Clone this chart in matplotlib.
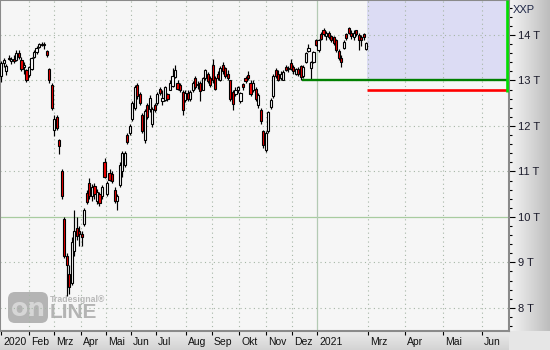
import matplotlib
matplotlib.use('Agg')
import matplotlib.pyplot as plt
import numpy as np
from matplotlib.patches import Rectangle, FancyBboxPatch
from matplotlib.transforms import ScaledTranslation
from matplotlib.ticker import MultipleLocator

plt.rcParams['font.family'] = ['Liberation Sans', 'DejaVu Sans']

# ---------------- data ----------------
opens = [13.10, 13.38, 13.20, 13.50, 13.42, 13.48, 13.45, 13.60, 13.45, 13.30,
         13.22, 13.12, 13.25, 13.52, 13.62, 13.74, 13.80, 13.78, 13.64, 13.25,
         12.90, 11.90, 12.20, 11.70, 11.00, 9.95, 9.15, 8.75, 8.55, 9.25,
         9.75, 9.70, 9.62, 9.85, 10.52, 10.75, 10.45, 10.68, 10.35, 10.50,
         10.45, 11.20, 10.50, 10.96, 10.95, 10.60, 10.35, 10.70, 11.00, 11.15,
         11.80, 11.85, 12.15, 12.40, 12.90, 12.70, 12.25, 11.70, 12.45, 12.38,
         12.05, 12.45, 12.50, 12.82, 12.55, 12.58, 12.70, 12.80, 12.88, 13.08,
         12.95, 12.90, 12.75, 12.58, 12.72, 12.60, 12.78, 13.05, 12.90, 12.95,
         12.80, 13.05, 13.15, 13.05, 13.35, 13.05, 13.15, 13.00, 13.35, 13.28,
         13.15, 13.00, 12.75, 12.70, 12.80, 12.55, 12.92, 13.05, 13.12, 12.95,
         12.80, 12.82, 12.45, 12.35, 11.88, 11.48, 11.88, 12.42, 12.65, 13.22,
         13.15, 13.05, 13.02, 13.30, 13.25, 13.38, 13.30, 13.15, 13.25, 13.32,
         13.10, 13.40, 13.65, 13.28, 13.40, 13.88, 13.68, 14.02, 14.10, 13.98,
         14.05, 13.98, 13.95, 13.88, 13.65, 13.50, 13.72, 14.02, 14.15, 14.05,
         13.95, 14.10, 14.00, 13.95, 14.02, 13.70]
highs = [13.42, 13.50, 13.36, 13.55, 13.52, 13.55, 13.66, 13.66, 13.52, 13.40,
         13.25, 13.32, 13.52, 13.66, 13.76, 13.83, 13.84, 13.84, 13.66, 13.27,
         12.95, 12.25, 12.25, 11.72, 11.05, 10.00, 9.20, 8.95, 9.55, 10.15,
         10.00, 9.80, 9.70, 10.20, 10.60, 10.85, 10.72, 10.75, 10.62, 10.55,
         10.70, 11.30, 10.80, 11.05, 11.00, 10.65, 10.50, 11.20, 11.45, 11.45,
         11.85, 12.05, 12.55, 12.90, 12.95, 12.75, 12.28, 12.38, 12.50, 12.68,
         12.42, 12.50, 12.75, 12.85, 12.80, 12.88, 12.72, 13.00, 13.28, 13.33,
         13.00, 12.95, 12.80, 12.78, 12.78, 12.80, 12.98, 13.10, 12.98, 12.98,
         13.08, 13.25, 13.18, 13.10, 13.47, 13.10, 13.20, 13.32, 13.40, 13.30,
         13.22, 13.02, 12.78, 12.85, 12.88, 12.75, 12.95, 13.10, 13.20, 13.00,
         13.00, 12.85, 12.72, 12.40, 11.90, 11.88, 12.32, 12.62, 13.15, 13.28,
         13.22, 13.20, 13.22, 13.35, 13.32, 13.47, 13.35, 13.28, 13.30, 13.35,
         13.35, 13.62, 13.80, 13.42, 13.65, 13.92, 13.92, 14.06, 14.15, 14.08,
         14.08, 14.00, 13.98, 13.92, 13.70, 13.55, 13.88, 14.05, 14.18, 14.10,
         14.10, 14.12, 14.05, 14.00, 14.05, 13.85]
lows = [12.97, 13.30, 13.12, 13.44, 13.36, 13.38, 13.43, 13.48, 13.20, 13.15,
        12.97, 13.08, 13.22, 13.50, 13.58, 13.72, 13.75, 13.70, 13.52, 12.95,
        12.35, 11.78, 11.90, 11.38, 10.40, 9.10, 8.25, 8.30, 8.50, 9.15,
        9.50, 9.35, 9.35, 9.80, 10.28, 10.40, 10.35, 10.40, 10.28, 10.25,
        10.40, 10.85, 10.45, 10.80, 10.75, 10.30, 10.15, 10.65, 10.88, 11.10,
        11.60, 11.80, 12.10, 12.35, 12.60, 12.45, 11.85, 11.62, 12.15, 12.30,
        11.98, 12.30, 12.45, 12.68, 12.45, 12.55, 12.55, 12.78, 12.85, 13.05,
        12.80, 12.75, 12.24, 12.52, 12.55, 12.55, 12.75, 12.82, 12.82, 12.55,
        12.78, 13.02, 12.95, 12.85, 12.95, 12.78, 13.00, 12.98, 13.15, 13.05,
        13.00, 12.55, 12.35, 12.65, 12.72, 12.50, 12.80, 12.95, 13.02, 12.65,
        12.75, 12.55, 12.40, 12.05, 11.52, 11.42, 11.85, 12.38, 12.62, 13.05,
        12.98, 13.00, 13.00, 13.20, 13.18, 13.22, 13.15, 13.12, 13.10, 13.00,
        13.05, 13.38, 13.62, 13.00, 13.38, 13.75, 13.62, 13.88, 13.98, 13.90,
        13.92, 13.85, 13.78, 13.62, 13.45, 13.30, 13.70, 13.90, 14.02, 13.92,
        13.90, 13.98, 13.67, 13.75, 13.90, 13.68]
closes = [13.38, 13.45, 13.32, 13.47, 13.48, 13.42, 13.60, 13.52, 13.25, 13.35,
          13.02, 13.30, 13.50, 13.63, 13.72, 13.80, 13.79, 13.80, 13.56, 13.00,
          12.40, 12.15, 11.95, 11.55, 10.45, 9.15, 8.95, 8.45, 9.45, 9.70,
          9.58, 9.62, 9.55, 10.15, 10.32, 10.45, 10.65, 10.50, 10.55, 10.30,
          10.65, 10.88, 10.75, 10.82, 10.80, 10.35, 10.45, 11.15, 11.40, 11.40,
          11.65, 12.00, 12.50, 12.85, 12.65, 12.50, 11.88, 12.33, 12.20, 12.62,
          12.38, 12.35, 12.70, 12.72, 12.62, 12.85, 12.60, 12.95, 13.10, 13.22,
          12.82, 12.78, 12.35, 12.72, 12.60, 12.75, 12.95, 12.85, 12.92, 12.76,
          13.05, 13.22, 12.98, 12.90, 13.00, 12.82, 13.05, 13.28, 13.20, 13.10,
          13.05, 12.60, 12.48, 12.80, 12.85, 12.72, 12.85, 12.98, 13.05, 12.70,
          12.95, 12.60, 12.68, 12.10, 11.58, 11.85, 12.30, 12.58, 13.10, 13.10,
          13.02, 13.15, 13.18, 13.24, 13.28, 13.25, 13.20, 13.25, 13.15, 13.08,
          13.30, 13.60, 13.72, 13.40, 13.62, 13.78, 13.88, 13.92, 14.02, 14.05,
          13.95, 13.88, 13.82, 13.68, 13.50, 13.40, 13.85, 13.93, 14.05, 13.98,
          14.05, 14.02, 13.90, 13.88, 13.95, 13.82]

bar_step = 2  # trading days per drawn candle

month_pos = [0, 22, 42, 63, 83, 103, 123, 147, 167, 189, 210, 231, 251,
             291, 321, 351, 381.5]
month_labels = ['2020', 'Feb', 'Mrz', 'Apr', 'Mai', 'Jun', 'Jul', 'Aug', 'Sep',
                'Okt', 'Nov', 'Dez', '2021', 'Mrz', 'Apr', 'Mai', 'Jun']
year_starts = ['2020', '2021']

price_ticks = [8, 9, 10, 11, 12, 13, 14]
price_labels = ['8 T', '9 T', '10 T', '11 T', '12 T', '13 T', '14 T']
symbol = 'XXP'

zone_start = 290.5      # projection zone begins
zone_low = 13.0
support_start = 238.6
support_level = 13.0
stop_level = 12.80
marker_x = 402.1
marker_low = 12.74
ref_level = 10.0
year_line = 251

# ---------------- figure ----------------
W, H = 550, 350
PW, PH = 509, 331
fig = plt.figure(figsize=(5.5, 3.5), dpi=100)

bg = fig.add_axes([0, 0, 1, 1])
bg.set_zorder(-1)
bg.set_xlim(0, W)
bg.set_ylim(H, 0)
bg.axis('off')
bg.add_patch(Rectangle((0, 0), PW, PH, color='#F6F6F6', lw=0))
g = np.linspace(0.96, 0.74, 80)
bg.imshow(np.dstack([g[None, :]] * 3), extent=(PW, W, PH, 0), aspect='auto',
          interpolation='bilinear')
gv = np.linspace(0.92, 0.83, 20)
bg.imshow(np.dstack([gv[:, None]] * 3), extent=(0, PW, H, PH), aspect='auto',
          interpolation='bilinear')
bg.add_patch(Rectangle((PW, PH), W - PW, H - PH, color='#E6E6E6', lw=0))
# watermark
bg.add_patch(FancyBboxPatch((8, 292), 40, 31,
                            boxstyle='round,pad=0,rounding_size=7',
                            color='#B4B4B4', lw=0))
bg.text(28, 309, 'on', fontsize=18, fontweight='bold', color='#D6D6D6',
        ha='center', va='center', family='DejaVu Sans')
bg.text(50, 312, 'LINE', fontsize=15, fontweight='bold', color='#B4B4B4',
        ha='left', va='center')
bg.text(50, 299, 'Tradesignal®', fontsize=6.3, fontweight='bold',
        color='#B8B8B8', ha='left', va='center')
bg.set_xlim(0, W)
bg.set_ylim(H, 0)

ax = fig.add_axes([0, (H - PH) / H, PW / W, PH / H])
ax.set_facecolor('none')
ax.set_xlim(-1.03, 403.3)
ax.set_ylim(7.49, 14.77)
for s in ax.spines.values():
    s.set_color('#8A8A8A')
    s.set_linewidth(1.5)

# projection zone
ax.add_patch(Rectangle((zone_start, zone_low), marker_x - zone_start, 5,
                       color='#DCDCF4', lw=0, zorder=0.5))

# grid
grid_kw = dict(color='#A6B6A6', lw=0.8, ls=(0, (1, 3)), zorder=1)
for p, lab in zip(month_pos, month_labels):
    if lab not in year_starts:
        ax.axvline(p, **grid_kw)
for t in price_ticks:
    if t != ref_level:
        ax.axhline(t, **grid_kw)
ax.axhline(ref_level, color='#A8CCA0', lw=0.9, zorder=1)
ax.axvline(year_line, color='#B4CAB4', lw=0.9, zorder=1)

# candles
o = np.array(opens); h = np.array(highs); l = np.array(lows); c = np.array(closes)
x = np.arange(len(o)) * bar_step
ax.vlines(x, l, h, color='black', lw=0.85, zorder=3)
cols = ['#F00000' if cc < oo else 'white' for oo, cc in zip(o, c)]
ax.bar(x, np.abs(c - o), width=1.7, bottom=np.minimum(o, c), color=cols,
       edgecolor='black', linewidth=0.8, zorder=4)

# level lines
ax.hlines(support_level, support_start, marker_x, color='#008000', lw=1.7, zorder=5)
ax.hlines(stop_level, zone_start, marker_x, color='#FF0000', lw=1.9, zorder=5)
ax.vlines(marker_x, marker_low, 14.77, color='#00E000', lw=1.9, zorder=6)

# axes ticks
ax.yaxis.tick_right()
ax.set_yticks(price_ticks)
ax.set_yticklabels(price_labels)
ax.yaxis.set_minor_locator(MultipleLocator(0.2))
ax.tick_params(axis='y', which='major', direction='out', length=4, width=0.8,
               color='black', pad=2.5, labelsize=8, labelcolor='#1A1A2A')
ax.tick_params(axis='y', which='minor', direction='out', length=2, width=0.8,
               color='black')
ax.set_xticks(month_pos)
ax.set_xticklabels(month_labels)
ax.tick_params(axis='x', direction='out', length=3, width=0.8, color='black',
               pad=1, labelsize=7.5, labelcolor='#111111')
off = ScaledTranslation(2 / 100, 0, fig.dpi_scale_trans)
for lbl in ax.get_xticklabels():
    lbl.set_horizontalalignment('left')
    lbl.set_transform(lbl.get_transform() + off)

fig.text(513 / W, 1 - 10 / H, symbol, fontsize=8, color='#202848',
         ha='left', va='center')

fig.savefig('out.png', dpi=100)
